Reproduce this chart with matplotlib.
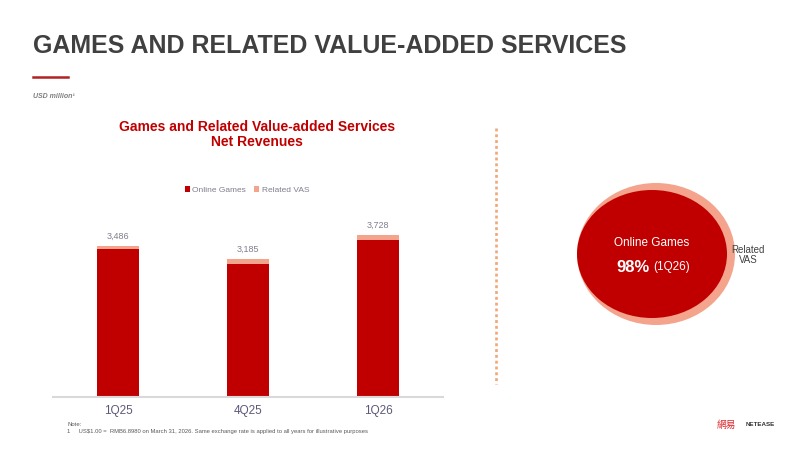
import matplotlib.pyplot as plt
from matplotlib.patches import Ellipse
import numpy as np

plt.rcParams['font.family'] = ['Liberation Sans', 'DejaVu Sans']

# data (USD million)
quarters = ['1Q25', '4Q25', '1Q26']
totals = [3486, 3185, 3728]
related_vas = [92, 115, 105]
online_games = [t - v for t, v in zip(totals, related_vas)]
online_share = 98  # % of 1Q26

RED = '#C00000'
SALMON = '#F4A48C'
GREY_TXT = '#7F7F8C'

fig = plt.figure(figsize=(8, 4.5), dpi=100)

# page title and decorations
fig.text(33/800, 1 - 46/450, 'GAMES AND RELATED VALUE-ADDED SERVICES',
         fontsize=18, fontweight='bold', color='#404040', va='center')
fig.add_artist(plt.Line2D([33/800, 68/800], [1 - 77/450, 1 - 77/450],
                          color='#B22222', lw=1.8))
fig.text(33/800, 1 - 97/450, 'USD million¹', fontsize=5, style='italic',
         fontweight='bold', color='#7F7F7F', va='center')

# bar chart
ax = fig.add_axes([53/800, 1 - 397/450, 390/800, 197/450])
x = np.arange(len(quarters))
ax.bar(x, online_games, width=0.32, color=RED, label='Online Games')
ax.bar(x, related_vas, width=0.32, bottom=online_games, color=SALMON,
       label='Related VAS')
for xi, t in zip(x, totals):
    ax.text(xi, t + 110, f'{t:,}', ha='center', va='bottom', fontsize=6.5,
            color=GREY_TXT)
ax.set_xlim(-0.5, 2.5)
ax.set_ylim(0, 4533)
ax.set_yticks([])
ax.set_xticks(x)
ax.set_xticklabels(quarters, fontsize=8.5, color='#5A5A78')
ax.tick_params(axis='x', length=0, pad=6)
for s in ['top', 'right', 'left']:
    ax.spines[s].set_visible(False)
ax.spines['bottom'].set_color('#D9D9D9')
ax.spines['bottom'].set_linewidth(1.5)

fig.legend(loc='center', bbox_to_anchor=(247/800, 1 - 190/450), ncol=2,
           frameon=False, fontsize=6, handlelength=0.6, handleheight=0.6,
           handletextpad=0.3, columnspacing=1.0, labelcolor='#7F7F8C')

fig.text(257/800, 1 - 127/450, 'Games and Related Value-added Services',
         fontsize=10, fontweight='bold', color=RED, ha='center', va='center')
fig.text(257/800, 1 - 142/450, 'Net Revenues',
         fontsize=10, fontweight='bold', color=RED, ha='center', va='center')

# notes
fig.text(67/800, 1 - 424/450, 'Note:', fontsize=4.3, color='#595959', va='center')
fig.text(67/800, 1 - 431/450,
         '1     US$1.00 =  RMB6.8980 on March 31, 2026. Same exchange rate is applied to all years for illustrative purposes',
         fontsize=4.2, color='#595959', va='center')

# dotted divider
fig.add_artist(plt.Line2D([496/800, 496/800], [1 - 128/450, 1 - 384/450],
                          color='#F0A878', lw=1.9, linestyle=(0, (1.1, 1.1))))

# share bubble
bx = fig.add_axes([0, 0, 1, 1], facecolor='none')
bx.set_xlim(0, 800)
bx.set_ylim(450, 0)
bx.axis('off')
bx.add_patch(Ellipse((656, 254), 158, 142, color=SALMON, lw=0))
bx.add_patch(Ellipse((652, 254), 150, 128, color=RED, lw=0))
bx.text(652, 243, 'Online Games', color='white', fontsize=8.5, ha='center',
        va='center')
bx.text(633, 267, f'{online_share}%', color='white', fontsize=12,
        fontweight='bold', ha='center', va='center')
bx.text(672, 267, '(1Q26)', color='white', fontsize=8.5, ha='center',
        va='center')
bx.text(748, 255, 'Related\nVAS', color='#404040', fontsize=7, ha='center',
        va='center', linespacing=1.0)

# logo
bx.text(726, 425, '網易', color='#D9272E', fontsize=7,
        family=['Noto Sans CJK TC', 'DejaVu Sans'], ha='center', va='center')
bx.text(760, 425, 'NETEASE', color='#333333', fontsize=4.5, fontweight='bold',
        ha='center', va='center')

fig.savefig('out.png', dpi=100)
